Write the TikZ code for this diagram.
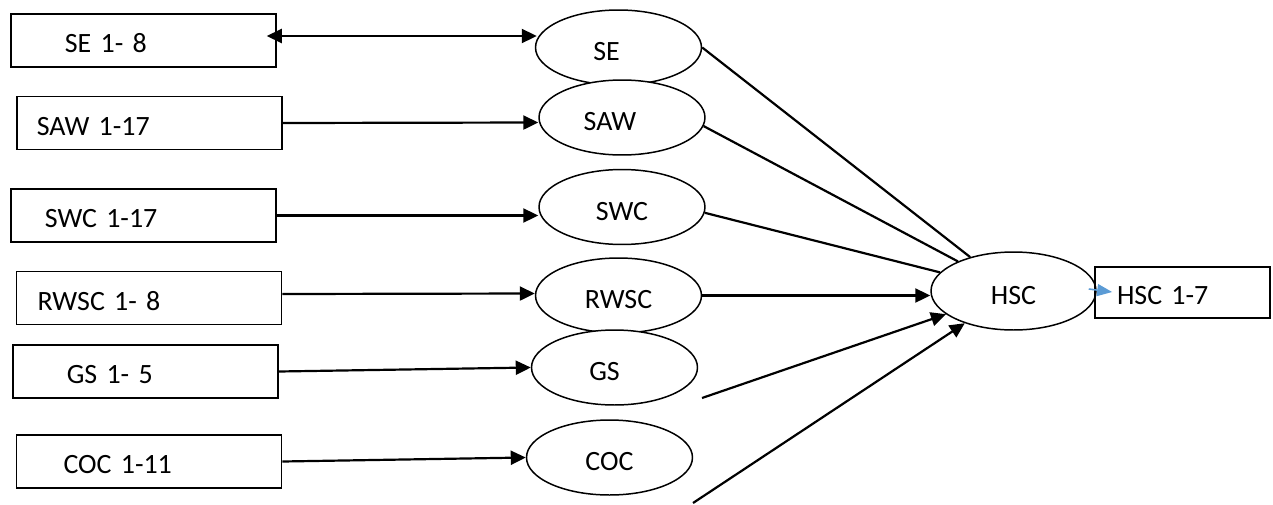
\documentclass[tikz,border=0pt]{standalone}
\usepackage{fontspec}
\setmainfont{Carlito}
\usepackage{tikz}
\usetikzlibrary{
  shapes.geometric,
  arrows.meta,
  calc
}
\definecolor{ArrowBlue}{RGB}{91, 155, 213}
\tikzset{
    itembox/.style={rectangle, draw=black, line width=1pt, inner xsep=0pt, inner ysep=0pt,
        text width=5.3cm, minimum height=1.06cm, align=left,
        text height=14pt, text depth=0pt,
        font=\fontsize{15.9}{19}\selectfont},
    factor/.style={ellipse, draw=black, fill=white, line width=0.85pt, inner sep=0pt,
        minimum width=3.32cm, minimum height=1.5cm,
        text height=14.8pt, text depth=0pt,
        font=\fontsize{15.9}{19}\selectfont},
    link/.style={line width=1.25pt},
    blueLink/.style={ArrowBlue, line width=0.9pt, -{Triangle[length=0.3cm, width=0.24cm]}}
}

\begin{document}
\begin{tikzpicture}[x=0.02cm, y=-0.02cm, >={Triangle[length=0.3cm, width=0.28cm]}]
    \useasboundingbox (0,0) rectangle (1273,504);

    % item boxes on the left
    \node[itembox] (seItems)   at (143.4,40.5)  {\hspace*{1.08cm}SE 1- 8};
    \node[itembox] (sawItems)  at (149.3,123)   {\hspace*{0.4cm}SAW 1-17};
    \node[itembox] (swcItems)  at (143.4,215.5) {\hspace*{0.68cm}SWC 1-17};
    \node[itembox] (rwscItems) at (149,298)     {\hspace*{0.42cm}RWSC 1- 8};
    \node[itembox] (gsItems)   at (145.3,371.5) {\hspace*{1.08cm}GS 1- 5};
    \node[itembox] (cocItems)  at (149,461.5)   {\hspace*{0.94cm}COC 1-11};

    % latent factors
    \node[factor] (se)   at (618.5,47.5)  {SE\hspace*{0.48cm}};
    \node[factor] (saw)  at (622,117.5)   {SAW\hspace*{0.48cm}};
    \node[factor] (swc)  at (622,207)     {SWC};
    \node[factor] (rwsc) at (618.5,295.5) {RWSC};
    \node[factor] (gs)   at (614.5,367.5) {GS\hspace*{0.4cm}};
    \node[factor] (coc)  at (609.5,457.5) {COC};

    \node[factor, minimum width=3.3cm, minimum height=1.56cm] (hsc) at (1013.5,291) {HSC};
    \node[itembox, text width=3.5cm, minimum height=1.02cm] (hscItems) at (1182.5,292.5) {\hspace*{0.44cm}HSC 1-7};

    % items to factors
    \draw[link, <->] ($(seItems.east)+(-10,-4.5)$) -- ($(se.west)+(2,-11.5)$);
    \draw[link, ->] (sawItems.east) -- ($(saw.west)+(0,5)$);
    \draw[link, ->] (swcItems.east) -- (swcItems.east -| swc.west);
    \draw[link, ->] ($(rwscItems.east)+(0,-4)$) -- ($(rwsc.west)+(0,-2)$);
    \draw[link, ->] (gsItems.east) -- (gs.west);
    \draw[link, ->] (cocItems.east) -- (coc.west);

    % factors to HSC
    \coordinate (gsFoot) at (702,398);
    \coordinate (cocFoot) at (693,503);
    \draw[link] (se.east) -- (hsc);
    \draw[link] (saw.-6) -- (hsc);
    \draw[link] (swc.-4) -- (hsc);
    \draw[link, ->] (rwsc.east) -- (rwsc.east -| hsc.west);
    \draw[link, ->] (gsFoot) -- (hsc);
    \draw[link, ->] (cocFoot) -- (hsc);

    \draw[blueLink] ($(hsc.east)+(-8,-2)$) -- ($(hscItems.west)+(18,-0.5)$);
\end{tikzpicture}
\end{document}
